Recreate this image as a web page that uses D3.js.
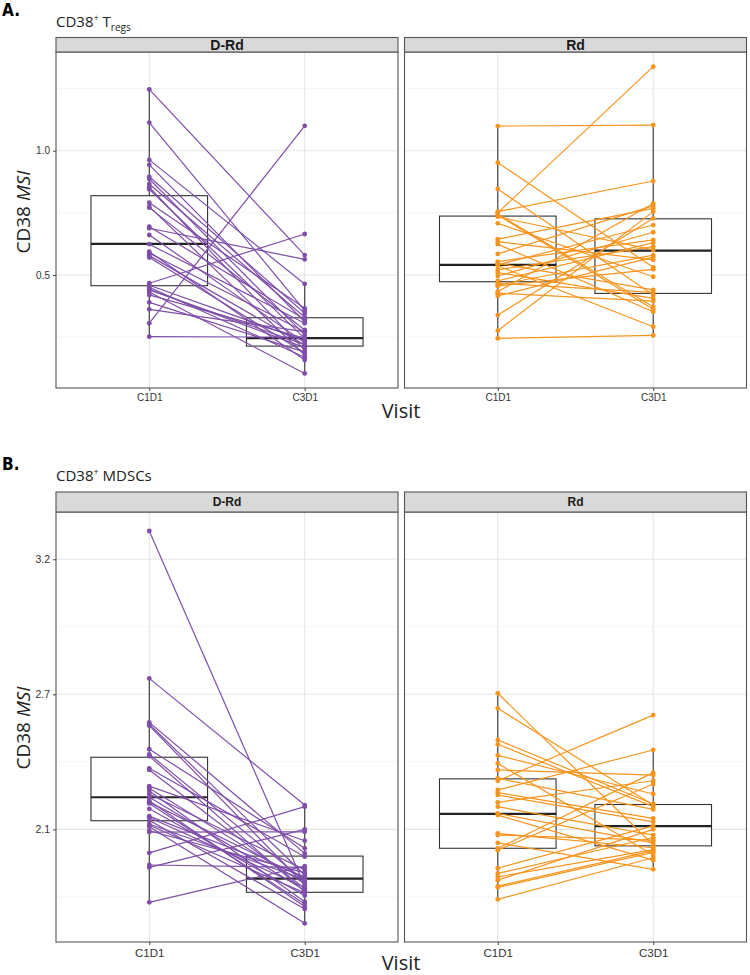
<!DOCTYPE html>
<html>
<head>
<meta charset="UTF-8">
<script src="https://d3js.org/d3.v7.min.js"></script>
<style>
  body { margin: 0; background: #fff; }
</style>
</head>
<body>
<svg width="750" height="975"></svg>
<script>
// categories
var visits = ["C1D1", "C3D1"];
var arms = ["D-Rd", "Rd"];
var armColors = ["#7e4ea8", "#f7941d"];

// A. CD38+ Tregs - paired values per patient (C1D1[i] -> C3D1[i])
var tregDRdC1 = [1.247, 1.113, 0.963, 0.943, 0.895, 0.886, 0.866, 0.853, 0.845, 0.791, 0.775, 0.771, 0.694, 0.688, 0.661, 0.624,
                 0.594, 0.588, 0.578, 0.570, 0.467, 0.459, 0.451, 0.442, 0.432, 0.420, 0.390, 0.362, 0.306, 0.252, 0.440];
var tregDRdC3 = [0.580, 0.357, 0.464, 0.312, 0.346, 0.259, 0.330, 0.198, 0.245, 0.366, 0.178, 0.279, 0.322, 0.563, 0.228, 0.306,
                 0.158, 0.272, 0.218, 0.187, 0.665, 0.236, 0.169, 0.208, 0.104, 0.245, 0.190, 0.272, 1.100, 0.250, 0.220];
var tregRdC1 = [1.099, 0.952, 0.846, 0.755, 0.750, 0.745, 0.741, 0.734, 0.708, 0.644, 0.634, 0.624, 0.585, 0.554, 0.547,
                0.541, 0.537, 0.521, 0.510, 0.496, 0.476, 0.467, 0.460, 0.456, 0.433, 0.427, 0.416, 0.339, 0.276, 0.245];
var tregRdC3 = [1.103, 0.531, 0.420, 0.878, 1.338, 0.372, 0.362, 0.601, 0.493, 0.768, 0.561, 0.352, 0.778, 0.641, 0.440,
                0.701, 0.292, 0.614, 0.406, 0.672, 0.630, 0.430, 0.580, 0.523, 0.788, 0.395, 0.572, 0.728, 0.755, 0.257];

// B. CD38+ MDSCs
var mdscDRdC1 = [3.305, 2.759, 2.596, 2.589, 2.584, 2.497, 2.478, 2.471, 2.426, 2.420, 2.360, 2.352, 2.342, 2.331, 2.319, 2.306,
                 2.300, 2.296, 2.276, 2.249, 2.244, 2.234, 2.220, 2.215, 2.210, 2.195, 2.190, 2.113, 2.068, 2.059, 1.930];
var mdscDRdC3 = [1.990, 2.290, 2.111, 2.031, 1.995, 2.130, 2.009, 1.969, 2.099, 1.981, 2.158, 2.000, 1.932, 2.050, 1.975, 1.914,
                 2.018, 1.924, 1.955, 2.024, 1.985, 1.905, 2.014, 1.965, 1.852, 2.039, 2.191, 2.284, 2.059, 2.200, 2.064];
var mdscRdC1 = [2.704, 2.648, 2.531, 2.515, 2.474, 2.444, 2.420, 2.389, 2.380, 2.346, 2.336, 2.327, 2.284, 2.259,
                2.253, 2.185, 2.179, 2.150, 2.130, 2.123, 2.056, 2.037, 2.024, 2.012, 1.990, 1.985, 1.941, 2.300];
var mdscRdC3 = [2.142, 2.290, 2.294, 2.284, 2.331, 2.105, 2.401, 2.274, 2.623, 2.494, 2.241, 2.228, 2.179, 2.150,
                2.086, 2.132, 2.160, 2.052, 2.410, 2.368, 2.213, 2.170, 2.125, 2.200, 2.121, 2.115, 2.095, 2.380];

// box stats: [lower whisker, Q1, median, Q3, upper whisker], one per visit
var tregDRdBox = [[0.254, 0.457, 0.625, 0.819, 1.247], [0.106, 0.214, 0.246, 0.328, 0.464]];
var tregRdBox  = [[0.245, 0.473, 0.541, 0.737, 1.099], [0.257, 0.426, 0.598, 0.726, 1.103]];
var mdscDRdBox = [[1.930, 2.232, 2.319, 2.467, 2.759], [1.852, 1.967, 2.018, 2.101, 2.290]];
var mdscRdBox  = [[1.941, 2.130, 2.257, 2.387, 2.704], [2.050, 2.139, 2.212, 2.292, 2.494]];

// y axis ticks
var tregTicks = [0.5, 1.0];
var tregTickLabels = ["0.5", "1.0"];
var tregMinor = [0.25, 0.75, 1.25];
var mdscTicks = [2.2, 2.7, 3.2];
var mdscTickLabels = ["2.1", "2.7", "3.2"];
var mdscMinor = [1.95, 2.45, 2.95];

var svg = d3.select("svg");
var panelX = [[56, 398], [404.5, 746.5]];
var textFont = "'Open Sans', 'Noto Sans', sans-serif";
var tickFont = "'Liberation Sans', Arial, sans-serif";

var rows = [
  { tag: "A.", tagY: 16, title: ["CD38", "+", " T", "regs"], titleY: 27,
    stripTop: 37.5, plotTop: 52, bottom: 388, domain: [0.0455, 1.397],
    ticks: tregTicks, tickLabels: tregTickLabels, minor: tregMinor,
    c1: [tregDRdC1, tregRdC1], c3: [tregDRdC3, tregRdC3], box: [tregDRdBox, tregRdBox],
    stripFont: 14, xTickFont: 10, yTickFont: 10, xTickY: 401, ylabY: 212, visitY: 418 },
  { tag: "B.", tagY: 470, title: ["CD38", "+", " MDSCs", ""], titleY: 481,
    stripTop: 492, plotTop: 512, bottom: 942, domain: [1.783, 3.375],
    ticks: mdscTicks, tickLabels: mdscTickLabels, minor: mdscMinor,
    c1: [mdscDRdC1, mdscRdC1], c3: [mdscDRdC3, mdscRdC3], box: [mdscDRdBox, mdscRdBox],
    stripFont: 12, xTickFont: 11.5, yTickFont: 10.5, xTickY: 957, ylabY: 728, visitY: 970 }
];

rows.forEach(function(row) {
  var g = svg.append("g");
  var y = d3.scaleLinear().domain(row.domain).range([row.bottom, row.plotTop]);

  // panel tag and title
  g.append("text")
    .attr("x", 2).attr("y", row.tagY)
    .attr("font-family", "'Liberation Sans Narrow', 'DejaVu Sans Condensed', sans-serif")
    .attr("font-weight", "bold").attr("font-size", 17)
    .text(row.tag);
  var t = g.append("text")
    .attr("x", 56).attr("y", row.titleY)
    .attr("font-family", textFont).attr("font-size", 15).attr("fill", "#222");
  t.append("tspan").text(row.title[0]);
  t.append("tspan").attr("dy", -6).attr("font-size", 9).text(row.title[1]);
  t.append("tspan").attr("dy", 6).text(row.title[2]);
  if (row.title[3]) t.append("tspan").attr("dy", 4).attr("font-size", 10).text(row.title[3]);

  arms.forEach(function(arm, k) {
    var x0 = panelX[k][0], x1 = panelX[k][1];
    var x = d3.scalePoint().domain(visits).range([x0, x1]).padding(0.6);
    var step = x.step();
    var p = g.append("g");

    // grid
    p.selectAll(".minor").data(row.minor).join("line")
      .attr("x1", x0).attr("x2", x1)
      .attr("y1", function(d) { return y(d); }).attr("y2", function(d) { return y(d); })
      .attr("stroke", "#f2f2f2").attr("stroke-width", 0.8);
    p.selectAll(".major").data(row.ticks).join("line")
      .attr("x1", x0).attr("x2", x1)
      .attr("y1", function(d) { return y(d); }).attr("y2", function(d) { return y(d); })
      .attr("stroke", "#e6e6e6").attr("stroke-width", 1.1);
    p.selectAll(".vgrid").data(visits).join("line")
      .attr("x1", function(d) { return x(d); }).attr("x2", function(d) { return x(d); })
      .attr("y1", row.plotTop).attr("y2", row.bottom)
      .attr("stroke", "#e6e6e6").attr("stroke-width", 1.1);

    // boxplots
    var bw = step * 0.75;
    visits.forEach(function(v, j) {
      var s = row.box[k][j];
      var cx = x(v);
      var bg = p.append("g");
      bg.append("line").attr("x1", cx).attr("x2", cx).attr("y1", y(s[0])).attr("y2", y(s[1]))
        .attr("stroke", "#333").attr("stroke-width", 1.1);
      bg.append("line").attr("x1", cx).attr("x2", cx).attr("y1", y(s[3])).attr("y2", y(s[4]))
        .attr("stroke", "#333").attr("stroke-width", 1.1);
      bg.append("rect").attr("x", cx - bw / 2).attr("width", bw)
        .attr("y", y(s[3])).attr("height", y(s[1]) - y(s[3]))
        .attr("fill", "#fff").attr("stroke", "#333").attr("stroke-width", 1.1);
      bg.append("line").attr("x1", cx - bw / 2).attr("x2", cx + bw / 2)
        .attr("y1", y(s[2])).attr("y2", y(s[2]))
        .attr("stroke", "#222").attr("stroke-width", 2.2);
    });

    // paired lines and points
    var c1 = row.c1[k], c3 = row.c3[k];
    var pairs = c1.map(function(d, i) { return [d, c3[i]]; });
    p.selectAll(".pair").data(pairs).join("line")
      .attr("x1", x("C1D1")).attr("x2", x("C3D1"))
      .attr("y1", function(d) { return y(d[0]); }).attr("y2", function(d) { return y(d[1]); })
      .attr("stroke", armColors[k]).attr("stroke-width", 1.2);
    var pts = [];
    pairs.forEach(function(d) { pts.push(["C1D1", d[0]]); pts.push(["C3D1", d[1]]); });
    p.selectAll(".pt").data(pts).join("circle")
      .attr("cx", function(d) { return x(d[0]); }).attr("cy", function(d) { return y(d[1]); })
      .attr("r", 2.4).attr("fill", armColors[k]);

    // panel border
    p.append("rect").attr("x", x0).attr("y", row.plotTop)
      .attr("width", x1 - x0).attr("height", row.bottom - row.plotTop)
      .attr("fill", "none").attr("stroke", "#555").attr("stroke-width", 1.1);

    // strip
    p.append("rect").attr("x", x0).attr("y", row.stripTop)
      .attr("width", x1 - x0).attr("height", row.plotTop - row.stripTop)
      .attr("fill", "#d9d9d9").attr("stroke", "#555").attr("stroke-width", 1.1);
    p.append("text")
      .attr("x", (x0 + x1) / 2).attr("y", (row.stripTop + row.plotTop) / 2)
      .attr("dy", "0.36em").attr("text-anchor", "middle")
      .attr("font-family", tickFont).attr("font-weight", "bold").attr("font-size", row.stripFont)
      .attr("fill", "#1a1a1a").text(arm);

    // x axis
    var xa = p.append("g").attr("transform", "translate(0," + row.bottom + ")")
      .call(d3.axisBottom(x).tickSize(3).tickPadding(2));
    xa.select(".domain").remove();
    xa.selectAll("line").attr("stroke", "#444");
    xa.selectAll("text").attr("font-family", tickFont).attr("font-size", row.xTickFont)
      .attr("fill", "#333").attr("y", null).attr("dy", null)
      .attr("transform", "translate(0," + (row.xTickY - row.bottom) + ")");

    // y axis on the left panel only
    if (k === 0) {
      var ya = p.append("g").attr("transform", "translate(" + x0 + ",0)")
        .call(d3.axisLeft(y).tickValues(row.ticks)
          .tickFormat(function(d, i) { return row.tickLabels[i]; })
          .tickSize(3).tickPadding(3));
      ya.select(".domain").remove();
      ya.selectAll("line").attr("stroke", "#444");
      ya.selectAll("text").attr("font-family", tickFont).attr("font-size", row.yTickFont).attr("fill", "#333");
    }
  });

  // axis titles
  var yl = g.append("text")
    .attr("transform", "translate(30," + row.ylabY + ") rotate(-90)")
    .attr("text-anchor", "middle")
    .attr("font-family", textFont).attr("font-size", 19).attr("fill", "#222");
  yl.append("tspan").text("CD38 ");
  yl.append("tspan").attr("font-style", "italic").text("MSI");
  g.append("text")
    .attr("x", 401).attr("y", row.visitY).attr("text-anchor", "middle")
    .attr("font-family", textFont).attr("font-size", 20).attr("fill", "#222")
    .text("Visit");
});
</script>
</body>
</html>
